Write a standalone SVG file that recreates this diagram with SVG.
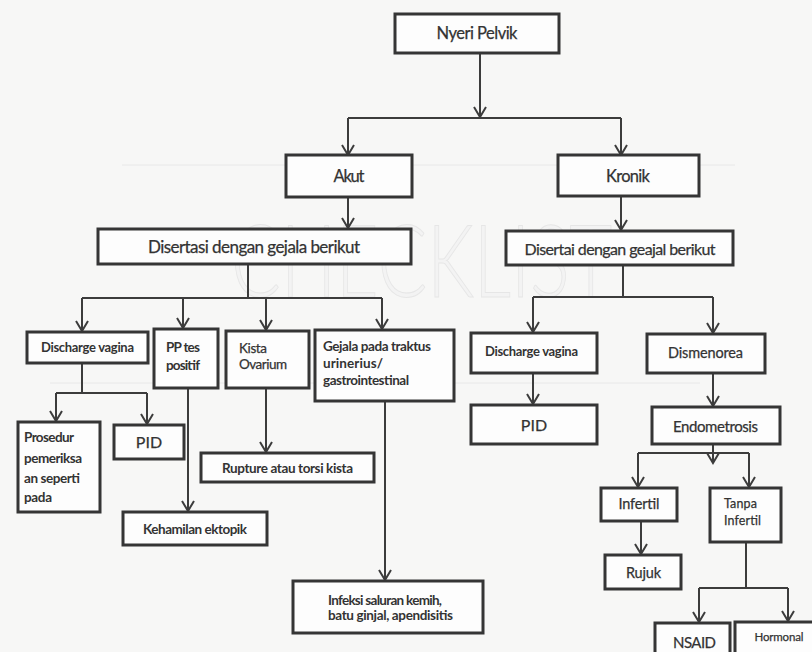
<svg xmlns="http://www.w3.org/2000/svg" width="812" height="652" viewBox="0 0 812 652">
  <style>
    .box { fill: #fdfdfd; stroke: #353535; stroke-width: 3; }
    .lbl { font-family: Lato, "Liberation Sans", sans-serif; fill: #333333; stroke: #333333; stroke-width: 0.25; }
    .c { text-anchor: middle; }
    .b { font-weight: bold; stroke-width: 0; }
    .wire { fill: none; stroke: #3c3c3c; stroke-width: 2; }
    .arr { marker-end: url(#head); }
    .scan { stroke: #e8e8e8; stroke-width: 1; }
  </style>
  <defs>
    <!-- open V arrowhead, drawn along +x so orient="auto" turns it with the line -->
    <marker id="head" markerUnits="userSpaceOnUse" markerWidth="16" markerHeight="16" viewBox="-12 -8 14 16" refX="0" refY="0" orient="auto">
      <path d="M-10,-6 L0,0 L-10,6" fill="none" stroke="#3c3c3c" stroke-width="2"/>
    </marker>
  </defs>

  <!-- paper -->
  <rect x="0" y="0" width="812" height="652" fill="#f7f7f6"/>
  <line class="scan" x1="122" y1="165" x2="735" y2="165"/>
  <line class="scan" x1="50" y1="383" x2="700" y2="383"/>
  <text x="231" y="297" font-family="Lato, 'Liberation Sans', sans-serif" font-weight="300" font-size="100" fill="#f3f3f3" stroke="#e6e6e6" stroke-width="1" textLength="381" lengthAdjust="spacingAndGlyphs">CHECKLIST</text>

  <!-- connectors -->
  <g id="connectors">
    <path class="wire arr" d="M480,53 V117"/>
    <path class="wire" d="M348,118 H621"/>
    <path class="wire arr" d="M348,118 V155"/>
    <path class="wire arr" d="M621,118 V155"/>
    <path class="wire arr" d="M348,197 V228"/>
    <path class="wire arr" d="M621,196 V230"/>

    <path class="wire" d="M248,264 V298 M82,298 H382"/>
    <path class="wire arr" d="M82,298 V331"/>
    <path class="wire arr" d="M183,298 V328"/>
    <path class="wire arr" d="M266,298 V330"/>
    <path class="wire arr" d="M382,298 V329"/>

    <path class="wire" d="M82,363 V393 M56,393 H147"/>
    <path class="wire arr" d="M56,393 V421"/>
    <path class="wire arr" d="M147,393 V424"/>
    <path class="wire arr" d="M188,388 V511"/>
    <path class="wire arr" d="M266,388 V452"/>
    <path class="wire arr" d="M385,401 V580"/>

    <path class="wire" d="M623,265 V297 M533,297 H713"/>
    <path class="wire arr" d="M533,297 V332"/>
    <path class="wire arr" d="M713,297 V333"/>
    <path class="wire arr" d="M533,373 V404"/>
    <path class="wire arr" d="M713,373 V406"/>

    <path class="wire arr" d="M713,444 V463"/>
    <path class="wire" d="M638,453 H749"/>
    <path class="wire arr" d="M638,453 V487"/>
    <path class="wire arr" d="M749,453 V487"/>
    <path class="wire arr" d="M641,521 V554"/>
    <path class="wire" d="M746,542 V588 M699,588 H788"/>
    <path class="wire arr" d="M699,588 V622"/>
    <path class="wire arr" d="M788,588 V621"/>
  </g>

  <!-- nodes -->
  <g id="n-nyeri">
    <rect class="box" x="395" y="14" width="164" height="39"/>
    <text class="lbl c" x="477" y="39" font-size="16.5" textLength="81">Nyeri Pelvik</text>
  </g>
  <g id="n-akut">
    <rect class="box" x="286" y="155" width="126" height="42"/>
    <text class="lbl c" x="349" y="182" font-size="16.5" textLength="31">Akut</text>
  </g>
  <g id="n-kronik">
    <rect class="box" x="558" y="155" width="141" height="41"/>
    <text class="lbl c" x="628" y="182" font-size="16.5" textLength="44">Kronik</text>
  </g>
  <g id="n-disertasi">
    <rect class="box" x="98" y="229" width="313" height="35"/>
    <text class="lbl c" x="254" y="253" font-size="17" textLength="212">Disertasi dengan gejala berikut</text>
  </g>
  <g id="n-disertai">
    <rect class="box" x="506" y="231" width="227" height="34"/>
    <text class="lbl c" x="620" y="255" font-size="16" textLength="191">Disertai dengan geajal berikut</text>
  </g>

  <g id="n-discharge-a">
    <rect class="box" x="27" y="332" width="121" height="31"/>
    <text class="lbl c b" x="87.5" y="352" font-size="13" textLength="93">Discharge vagina</text>
  </g>
  <g id="n-pp">
    <rect class="box" x="154" y="329" width="64" height="59"/>
    <text class="lbl b" x="166" y="352" font-size="13.5" textLength="34">PP tes</text>
    <text class="lbl b" x="166" y="370" font-size="13.5" textLength="34">positif</text>
  </g>
  <g id="n-kista">
    <rect class="box" x="226" y="331" width="83" height="57"/>
    <text class="lbl" x="239" y="353" font-size="13.5" textLength="28">Kista</text>
    <text class="lbl" x="239" y="369" font-size="13.5" textLength="48">Ovarium</text>
  </g>
  <g id="n-gejala">
    <rect class="box" x="315" y="330" width="139" height="71"/>
    <text class="lbl b" x="323" y="351" font-size="13.5" textLength="108">Gejala pada traktus</text>
    <text class="lbl b" x="323" y="368" font-size="13.5" textLength="60">urinerius/</text>
    <text class="lbl b" x="323" y="385" font-size="13.5" textLength="86">gastrointestinal</text>
  </g>
  <g id="n-prosedur">
    <rect class="box" x="18" y="422" width="82" height="90"/>
    <text class="lbl b" x="24" y="442" font-size="13.5" textLength="50">Prosedur</text>
    <text class="lbl b" x="24" y="463" font-size="13.5" textLength="58">pemeriksa</text>
    <text class="lbl b" x="24" y="483" font-size="13.5" textLength="56">an seperti</text>
    <text class="lbl b" x="24" y="502" font-size="13.5" textLength="28">pada</text>
  </g>
  <g id="n-pid-a">
    <rect class="box" x="114" y="425" width="70" height="34"/>
    <text class="lbl c" x="149" y="448" font-size="16">PID</text>
  </g>
  <g id="n-ektopik">
    <rect class="box" x="123" y="512" width="144" height="33"/>
    <text class="lbl c b" x="195" y="534" font-size="13.5" textLength="104">Kehamilan ektopik</text>
  </g>
  <g id="n-rupture">
    <rect class="box" x="201" y="453" width="173" height="29"/>
    <text class="lbl c b" x="287.5" y="473" font-size="13.5" textLength="131">Rupture atau torsi kista</text>
  </g>
  <g id="n-infeksi">
    <rect class="box" x="293" y="581" width="190" height="52"/>
    <text class="lbl b" x="328" y="605" font-size="13.5" textLength="114">Infeksi saluran kemih,</text>
    <text class="lbl b" x="328" y="620" font-size="13.5" textLength="125">batu ginjal, apendisitis</text>
  </g>

  <g id="n-discharge-b">
    <rect class="box" x="471" y="333" width="126" height="40"/>
    <text class="lbl c b" x="531.5" y="356" font-size="13" textLength="93">Discharge vagina</text>
  </g>
  <g id="n-dismenorea">
    <rect class="box" x="647" y="334" width="118" height="39"/>
    <text class="lbl c" x="705.5" y="358" font-size="14.5" textLength="75">Dismenorea</text>
  </g>
  <g id="n-pid-b">
    <rect class="box" x="471" y="405" width="126" height="39"/>
    <text class="lbl c" x="534" y="431" font-size="16">PID</text>
  </g>
  <g id="n-endometrosis">
    <rect class="box" x="652" y="407" width="128" height="37"/>
    <text class="lbl c" x="715.5" y="432" font-size="15" textLength="85">Endometrosis</text>
  </g>
  <g id="n-infertil">
    <rect class="box" x="601" y="488" width="76" height="33"/>
    <text class="lbl c" x="639" y="509" font-size="14.5" textLength="41">Infertil</text>
  </g>
  <g id="n-tanpa">
    <rect class="box" x="710" y="488" width="71" height="54"/>
    <text class="lbl" x="724" y="508" font-size="12.5" textLength="33">Tanpa</text>
    <text class="lbl" x="724" y="525" font-size="12.5" textLength="37">Infertil</text>
  </g>
  <g id="n-rujuk">
    <rect class="box" x="605" y="555" width="76" height="34"/>
    <text class="lbl c" x="643.5" y="578" font-size="14.5" textLength="35">Rujuk</text>
  </g>
  <g id="n-nsaid">
    <rect class="box" x="655" y="623" width="75" height="40"/>
    <text class="lbl c" x="694.5" y="648" font-size="15" textLength="43">NSAID</text>
  </g>
  <g id="n-hormonal">
    <rect class="box" x="735" y="622" width="90" height="40"/>
    <text class="lbl c" x="779" y="641" font-size="11.5" textLength="49">Hormonal</text>
  </g>
</svg>
